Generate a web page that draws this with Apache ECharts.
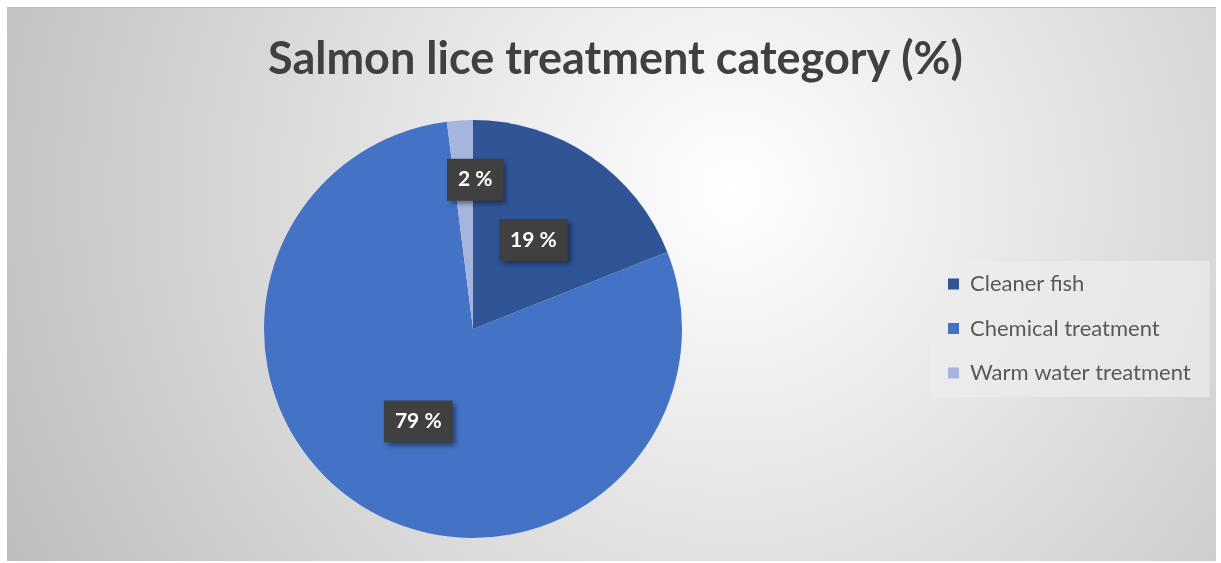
<!DOCTYPE html>
<html>
<head>
<meta charset="utf-8">
<script src="https://cdn.jsdelivr.net/npm/echarts@6/dist/echarts.min.js"></script>
<style>
  html, body { margin: 0; padding: 0; background: #fff; }
  #chart { position: absolute; left: 7px; top: 7px; width: 1209px; height: 553px; border-top: 1px solid #bdbdbd; }
</style>
</head>
<body>
<div id="chart"></div>
<script>
const categories = ['Cleaner fish', 'Chemical treatment', 'Warm water treatment'];
const shares = [19, 79, 2];
const sliceColors = ['#2F5597', '#4472C4', '#A5B5DD'];

const chart = echarts.init(document.getElementById('chart'));

const pieData = categories.map((name, i) => {
  const item = { name: name, value: shares[i], itemStyle: { color: sliceColors[i] } };
  // small slice: label pushed up like the original
  if (i === 2) item.label = { offset: [9, -42] };
  return item;
});

chart.setOption({
  backgroundColor: new echarts.graphic.RadialGradient(0.6, 0.33, 1.5, [
    { offset: 0, color: '#ffffff' },
    { offset: 1, color: '#bcbcbc' }
  ]),
  title: {
    text: 'Salmon lice treatment category (%)',
    left: 256,
    top: 24,
    textStyle: {
      fontFamily: 'Lato',
      fontSize: 45,
      fontWeight: 'bold',
      color: '#404040'
    }
  },
  legend: {
    orient: 'vertical',
    left: 923,
    top: 253,
    padding: [12, 19, 13, 18],
    backgroundColor: 'rgba(236,236,236,0.7)',
    itemWidth: 11,
    itemHeight: 11,
    itemGap: 22.5,
    icon: 'rect',
    textStyle: { fontFamily: 'Lato', fontSize: 22, color: '#595959', lineHeight: 22, padding: [0, 0, 0, 6] },
    data: categories
  },
  series: [{
    type: 'pie',
    center: [466, 321],
    radius: 209,
    startAngle: 90,
    clockwise: true,
    avoidLabelOverlap: false,
    emphasis: { disabled: true },
    label: {
      show: true,
      position: 'inside',
      formatter: '{c} %',
      fontFamily: 'Lato',
      fontSize: 21,
      fontWeight: 'bold',
      color: '#ffffff',
      backgroundColor: '#404040',
      padding: [11, 11, 10, 11],
      shadowColor: 'rgba(0,0,0,0.45)',
      shadowBlur: 5,
      shadowOffsetX: 3,
      shadowOffsetY: 3
    },
    labelLine: { show: false },
    data: pieData
  }]
});
</script>
</body>
</html>
